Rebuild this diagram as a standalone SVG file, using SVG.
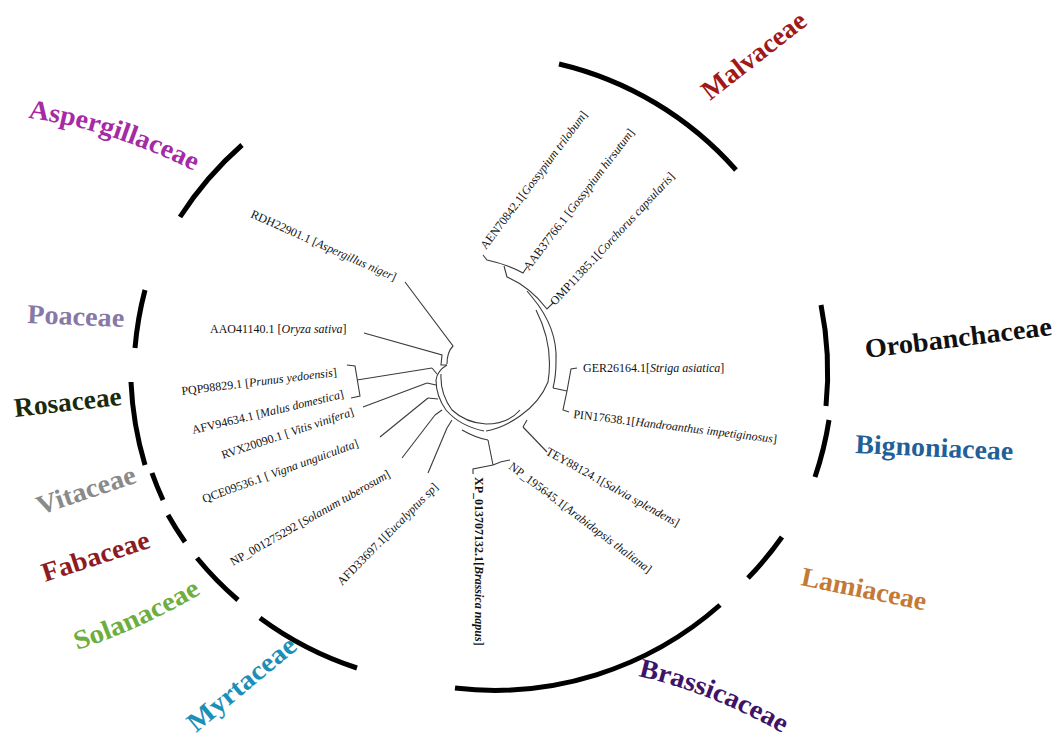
<svg xmlns="http://www.w3.org/2000/svg" width="1054" height="740" viewBox="0 0 1054 740">
<style>
.fam{font-family:"Liberation Serif","Times New Roman",serif;font-weight:bold;font-size:27px}
.lf{font-family:"Liberation Serif","Times New Roman",serif;font-size:12px;fill:#111}
.it{font-style:italic}
.arc{fill:none;stroke:#000;stroke-width:5;stroke-linecap:butt}
.br{fill:none;stroke:#3a3a3a;stroke-width:1.1}
</style>
<rect width="1054" height="740" fill="#fff"/>
<defs>
<path id="pAsp" d="M28,118 Q108,128 196,172"/>
<path id="pBra" d="M638,676 Q712,693 780,732"/>
<path id="pSol" d="M77,650 Q140,630 204,592"/>
</defs>

<g id="connectors" class="br">
<path d="M483,255 L487,260 Q506,264 523,273 L527,267"/>
<path d="M504,266 L507,277 Q530,287 547,309 L553,303"/>
<path d="M527,291 L532,297 Q558,328 556,362 Q556,376 553,388"/>
<path d="M577,368 L571,369 L567,391 L563,410 L569,412"/>
<path d="M567,391 L553,388"/>
<path d="M536,310 Q554,345 548,382 Q540,402 520,416 Q503,428 486,431"/>
<path d="M523,427 L547,452"/>
<path d="M523,427 L527,420"/>
<path d="M510,460 Q501,461 493,465 L473,469 L473,474"/>
<path d="M493,465 L488,440"/>
<path d="M488,440 Q476,438 462,430"/>
<path d="M405,282 L453,346 Q447,352 447,364"/>
<path d="M364,333 L442,355 L441,365 L447,365"/>
<path d="M347,365 L355,366 L360,396 L351,398"/>
<path d="M357,380 L432,368"/>
<path d="M363,407 L427,383"/>
<path d="M380,437 L428,398"/>
<path d="M402,458 L435,415"/>
<path d="M428,473 L447,428"/>
<path d="M447,365 Q437,371 436,380 Q436,396 446,410 Q460,426 484,431"/>
<path d="M432,368 L437,374"/>
<path d="M427,383 L436,385"/>
<path d="M428,398 L438,399"/>
<path d="M435,415 L442,410"/>
<path d="M447,428 L452,420"/>
<path d="M441,374 Q440,394 452,410 Q466,423 486,424 Q508,424 520,410"/>
</g>

<g id="leaf-AEN70842"><text class="lf" transform="translate(486,250) rotate(-53)">AEN70842.1[<tspan class="it">Gossypium trilobum</tspan>]</text></g>
<g id="leaf-AAB37766"><text class="lf" transform="translate(529,271) rotate(-52.6)">AAB37766.1 [<tspan class="it">Gossypium hirsutum</tspan>]</text></g>
<g id="leaf-OMP11385"><text class="lf" transform="translate(555,306) rotate(-47)">OMP11385.1[<tspan class="it">Corchorus capsularis</tspan>]</text></g>
<g id="leaf-GER26164"><text class="lf" transform="translate(583,372)">GER26164.1[<tspan class="it">Striga asiatica</tspan>]</text></g>
<g id="leaf-PIN17638"><text class="lf" transform="translate(573,418) rotate(7)">PIN17638.1[<tspan class="it">Handroanthus  impetiginosus</tspan>]</text></g>
<g id="leaf-TEY88124"><text class="lf" transform="translate(545,454) rotate(29)">TEY88124.1[<tspan class="it">Salvia splendens</tspan>]</text></g>
<g id="leaf-NP195645"><text class="lf" transform="translate(508,468) rotate(37)">NP_195645.1[<tspan class="it">Arabidopsis thaliana</tspan>]</text></g>
<g id="leaf-XP013707132"><text class="lf" font-weight="bold" transform="translate(475,477) rotate(90)">XP_013707132.1[<tspan class="it">Brassica napus</tspan>]</text></g>
<g id="leaf-AFD33697"><text class="lf" transform="translate(342,586) rotate(-45.5)">AFD33697.1[<tspan class="it">Eucalyptus sp</tspan>]</text></g>
<g id="leaf-NP001275292"><text class="lf" transform="translate(233,566) rotate(-29.5)">NP_001275292 [<tspan class="it">Solanum tuberosum</tspan>]</text></g>
<g id="leaf-QCE09536"><text class="lf" transform="translate(204,503) rotate(-20)">QCE09536.1 [ <tspan class="it">Vigna unguiculata</tspan>]</text></g>
<g id="leaf-RVX20090"><text class="lf" transform="translate(223,459) rotate(-18.5)">RVX20090.1 [ <tspan class="it">Vitis vinifera</tspan>]</text></g>
<g id="leaf-AFV94634"><text class="lf" transform="translate(193,434) rotate(-13.5)">AFV94634.1 [<tspan class="it">Malus domestica</tspan>]</text></g>
<g id="leaf-PQP98829"><text class="lf" transform="translate(182,395) rotate(-7)">PQP98829.1 [<tspan class="it">Prunus yedoensis</tspan>]</text></g>
<g id="leaf-AAO41140"><text class="lf" transform="translate(210,333)">AAO41140.1 [<tspan class="it">Oryza sativa</tspan>]</text></g>
<g id="leaf-RDH22901"><text class="lf" transform="translate(250,217) rotate(24)">RDH22901.1 [<tspan class="it">Aspergillus niger</tspan>]</text></g>

<g id="fam-Malvaceae"><path class="arc" d="M559,64 A340,340 0 0 1 736,170"/><text class="fam" fill="#a01818" textLength="125" lengthAdjust="spacingAndGlyphs" transform="translate(710,101) rotate(-38)">Malvaceae</text></g>
<g id="fam-Orobanchaceae"><path class="arc" d="M821,305 A340,340 0 0 1 826,406"/><text class="fam" fill="#111" textLength="188" lengthAdjust="spacingAndGlyphs" transform="translate(866,358) rotate(-7)">Orobanchaceae</text></g>
<g id="fam-Bignoniaceae"><path class="arc" d="M829,420 A340,340 0 0 1 815,477"/><text class="fam" fill="#225f98" textLength="158" lengthAdjust="spacingAndGlyphs" transform="translate(855,453) rotate(2.6)">Bignoniaceae</text></g>
<g id="fam-Lamiaceae"><path class="arc" d="M782,537 A340,340 0 0 1 748,578"/><text class="fam" fill="#c47a35" textLength="127" lengthAdjust="spacingAndGlyphs" transform="translate(800,585) rotate(11.5)">Lamiaceae</text></g>
<g id="fam-Brassicaceae"><path class="arc" d="M720,605 A340,340 0 0 1 455,688"/><text class="fam" fill="#3d1468" textLength="156" lengthAdjust="spacingAndGlyphs"><textPath href="#pBra">Brassicaceae</textPath></text></g>
<g id="fam-Myrtaceae"><path class="arc" d="M357,668 A340,340 0 0 1 260,618"/><text class="fam" fill="#1b8fb8" textLength="133" lengthAdjust="spacingAndGlyphs" transform="translate(196,733) rotate(-39.5)">Myrtaceae</text></g>
<g id="fam-Solanaceae"><path class="arc" d="M238,600 A340,340 0 0 1 197,558"/><text class="fam" fill="#6eae3e" textLength="137" lengthAdjust="spacingAndGlyphs"><textPath href="#pSol">Solanaceae</textPath></text></g>
<g id="fam-Fabaceae"><path class="arc" d="M185,542 A340,340 0 0 1 168,515"/><text class="fam" fill="#8e1a22" textLength="112" lengthAdjust="spacingAndGlyphs" transform="translate(45,582) rotate(-18)">Fabaceae</text></g>
<g id="fam-Vitaceae"><path class="arc" d="M163,500 A340,340 0 0 1 152,473"/><text class="fam" fill="#8a8a8a" textLength="103" lengthAdjust="spacingAndGlyphs" transform="translate(40,515) rotate(-18.6)">Vitaceae</text></g>
<g id="fam-Rosaceae"><path class="arc" d="M145,465 A340,340 0 0 1 131,382"/><text class="fam" fill="#1c2a0c" textLength="108" lengthAdjust="spacingAndGlyphs" transform="translate(15,417) rotate(-6.4)">Rosaceae</text></g>
<g id="fam-Poaceae"><path class="arc" d="M135,348 A340,340 0 0 1 145,290"/><text class="fam" fill="#8878a6" textLength="97" lengthAdjust="spacingAndGlyphs" transform="translate(27,323) rotate(2.4)">Poaceae</text></g>
<g id="fam-Aspergillaceae"><path class="arc" d="M180,217 A340,340 0 0 1 242,145"/><text class="fam" fill="#a52aa5" textLength="175" lengthAdjust="spacingAndGlyphs"><textPath href="#pAsp">Aspergillaceae</textPath></text></g>
</svg>
